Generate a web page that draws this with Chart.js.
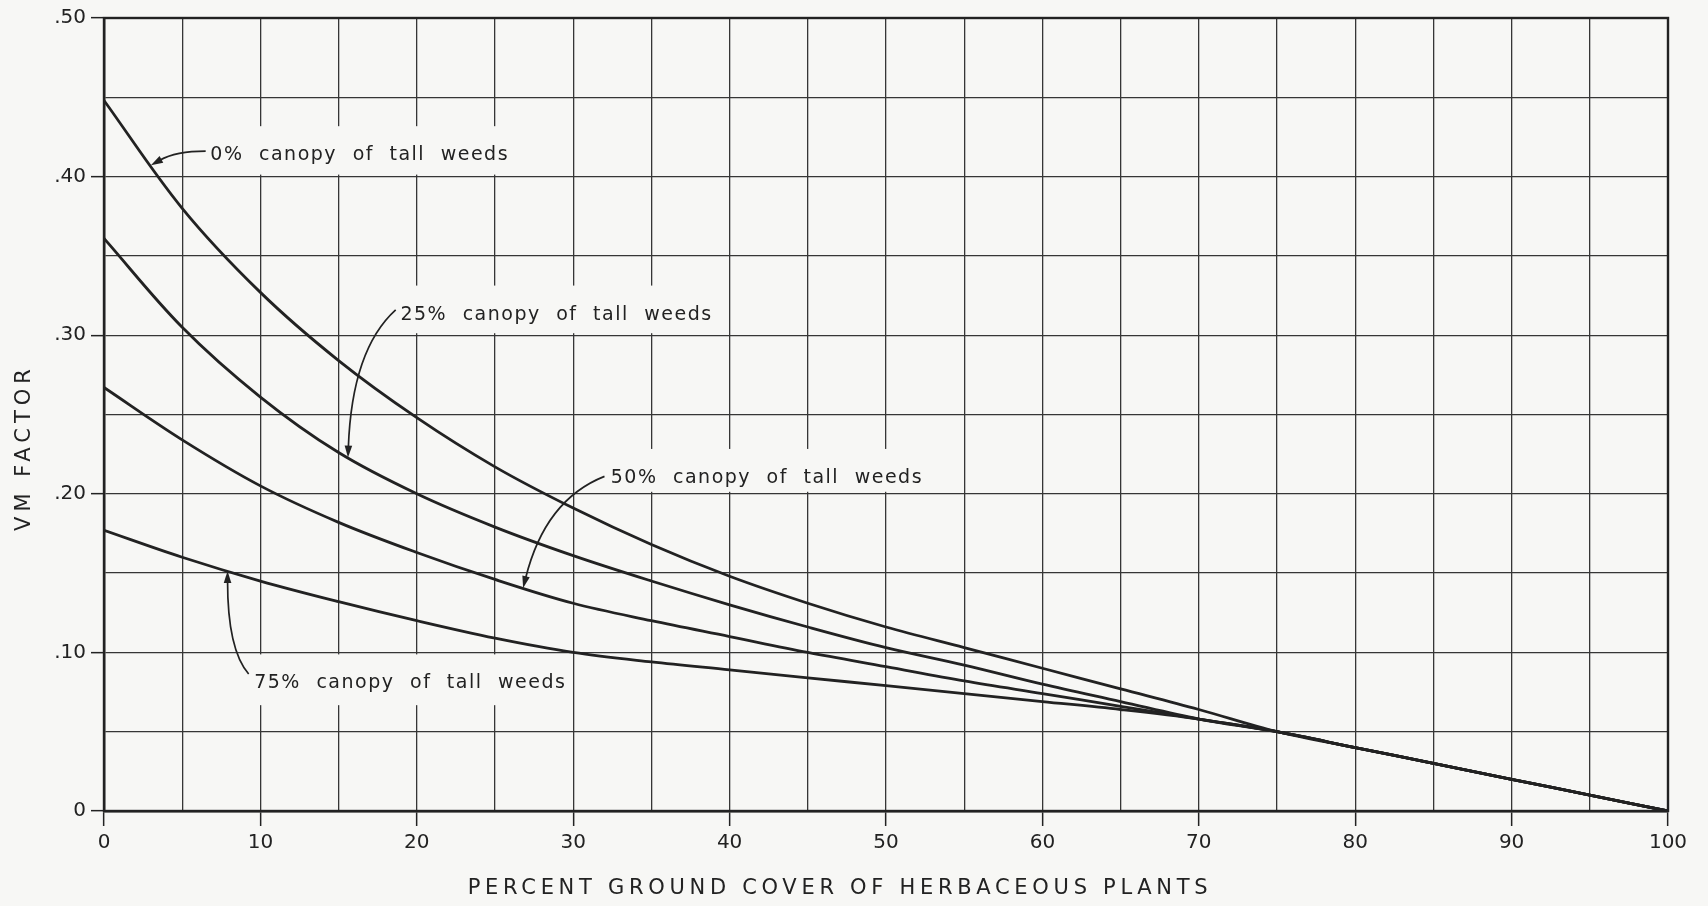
<!DOCTYPE html>
<html>
<head>
<meta charset="utf-8">
<title>VM factor vs. ground cover</title>
<script src="https://cdn.jsdelivr.net/npm/chart.js@4.4.1/dist/chart.umd.min.js"></script>
<style>
  html, body { margin: 0; padding: 0; background: #f7f7f5; }
  #wrap { width: 1708px; height: 906px; }
  canvas { display: block; }
</style>
</head>
<body>
<div id="wrap"><canvas id="chart" width="1708" height="906"></canvas></div>
<script>
// Percent ground cover of herbaceous plants (x positions of the read points)
const groundCover = [0, 5, 10, 15, 20, 25, 30, 35, 40, 45, 50, 55, 60, 65, 70, 75, 80, 85, 90, 95, 100];

// VM factor for each canopy level of tall weeds
const canopy0  = [0.448, 0.380, 0.327, 0.284, 0.248, 0.217, 0.191, 0.168, 0.148, 0.131, 0.116, 0.103, 0.090, 0.077, 0.064, 0.050, 0.040, 0.030, 0.020, 0.010, 0];
const canopy25 = [0.361, 0.305, 0.261, 0.226, 0.200, 0.179, 0.161, 0.145, 0.130, 0.116, 0.103, 0.092, 0.080, 0.069, 0.058, 0.050, 0.040, 0.030, 0.020, 0.010, 0];
const canopy50 = [0.267, 0.234, 0.205, 0.182, 0.163, 0.146, 0.131, 0.120, 0.110, 0.100, 0.091, 0.082, 0.074, 0.066, 0.058, 0.050, 0.040, 0.030, 0.020, 0.010, 0];
const canopy75 = [0.177, 0.160, 0.145, 0.132, 0.120, 0.109, 0.100, 0.094, 0.089, 0.084, 0.079, 0.074, 0.069, 0.064, 0.058, 0.050, 0.040, 0.030, 0.020, 0.010, 0];

// Axis tick labels
const xTickLabels = ['0', '10', '20', '30', '40', '50', '60', '70', '80', '90', '100'];
const yTickLabels = ['0', '.10', '.20', '.30', '.40', '.50'];

const xTitle = 'PERCENT GROUND COVER OF HERBACEOUS PLANTS';
const yTitle = 'VM FACTOR';

const INK = '#222222';
const GRID = '#363636';
const PAPER = '#f7f7f5';
const FONT = '"DejaVu Sans", "Liberation Sans", sans-serif';
const NOTE_FONT = '19px ' + FONT;

const toPoints = ys => groundCover.map((x, i) => ({ x, y: ys[i] }));

// value of a series at an arbitrary ground-cover percentage
function valueAt(series, x) {
  for (let i = 0; i < groundCover.length - 1; i++) {
    const x0 = groundCover[i], x1 = groundCover[i + 1];
    if (x >= x0 && x <= x1) {
      const t = (x - x0) / (x1 - x0);
      return series[i] + t * (series[i + 1] - series[i]);
    }
  }
  return series[series.length - 1];
}

// Curve labels with their leader arrows (data coordinates)
const curveNotes = [
  { text: '0% canopy of tall weeds',  series: canopy0,  at: [6.80, 0.4135], from: [6.50, 0.4160], ctrl: [4.6, 0.4160], tipX: 3.0 },
  { text: '25% canopy of tall weeds', series: canopy25, at: [18.95, 0.3130], from: [18.65, 0.3160], ctrl: [15.85, 0.2910], tipX: 15.6 },
  { text: '50% canopy of tall weeds', series: canopy50, at: [32.40, 0.2100], from: [32.00, 0.2110], ctrl: [28.2, 0.1962], tipX: 26.8 },
  { text: '75% canopy of tall weeds', series: canopy75, at: [9.60, 0.0806], from: [9.25, 0.0864], ctrl: [7.9, 0.1016], tipX: 7.9 }
];

const isMajor = v => Math.round(v * 100) % 10 === 0;

function setNoteFont(ctx) {
  ctx.font = NOTE_FONT;
  ctx.letterSpacing = '1.5px';
  ctx.wordSpacing = '8px';
}

const paperPlugin = {
  id: 'paper',
  beforeDraw(chart) {
    const { ctx, width, height } = chart;
    ctx.save();
    ctx.fillStyle = PAPER;
    ctx.fillRect(0, 0, width, height);
    ctx.restore();
  }
};

// Clears the grid behind each curve label
const labelMaskPlugin = {
  id: 'labelMask',
  beforeDatasetsDraw(chart) {
    const { ctx, scales: { x, y } } = chart;
    ctx.save();
    setNoteFont(ctx);
    curveNotes.forEach(n => {
      const px = x.getPixelForValue(n.at[0]);
      const cy = y.getPixelForValue(n.at[1]);
      const w = ctx.measureText(n.text).width;
      const above = y.getPixelForValue(Math.ceil(n.at[1] / 0.05) * 0.05);
      const below = y.getPixelForValue(Math.floor(n.at[1] / 0.05) * 0.05);
      const top = Math.max(cy - 29, above + 2);
      const bottom = Math.min(cy + 22, below - 2);
      ctx.fillStyle = PAPER;
      ctx.fillRect(px - 8, top, w + 10, bottom - top);
    });
    ctx.restore();
  }
};

// Labels, leader arrows, frame and axis titles
const notesPlugin = {
  id: 'notes',
  afterDatasetsDraw(chart) {
    const { ctx, chartArea: a, scales: { x, y } } = chart;
    ctx.save();

    // frame
    ctx.strokeStyle = INK;
    ctx.lineWidth = 2.4;
    ctx.strokeRect(a.left, a.top, a.right - a.left, a.bottom - a.top);

    // curve labels
    ctx.fillStyle = INK;
    setNoteFont(ctx);
    ctx.textBaseline = 'middle';
    ctx.textAlign = 'left';
    curveNotes.forEach(n => {
      ctx.fillText(n.text, x.getPixelForValue(n.at[0]), y.getPixelForValue(n.at[1]));
    });

    // leader arrows
    ctx.strokeStyle = INK;
    ctx.lineWidth = 1.7;
    curveNotes.forEach(n => {
      const p0 = [x.getPixelForValue(n.from[0]), y.getPixelForValue(n.from[1])];
      const p1 = [x.getPixelForValue(n.ctrl[0]), y.getPixelForValue(n.ctrl[1])];
      const tip = [x.getPixelForValue(n.tipX), y.getPixelForValue(valueAt(n.series, n.tipX))];
      let dx = tip[0] - p1[0], dy = tip[1] - p1[1];
      const len = Math.hypot(dx, dy);
      dx /= len; dy /= len;
      const headLen = 12, headHalf = 3.8;
      const base = [tip[0] - dx * headLen, tip[1] - dy * headLen];
      ctx.beginPath();
      ctx.moveTo(p0[0], p0[1]);
      ctx.quadraticCurveTo(p1[0], p1[1], base[0] + dx * 2, base[1] + dy * 2);
      ctx.stroke();
      ctx.beginPath();
      ctx.moveTo(tip[0], tip[1]);
      ctx.lineTo(base[0] - dy * headHalf, base[1] + dx * headHalf);
      ctx.lineTo(base[0] + dy * headHalf, base[1] - dx * headHalf);
      ctx.closePath();
      ctx.fill();
    });

    // axis titles
    ctx.font = '21px ' + FONT;
    ctx.textAlign = 'center';
    ctx.textBaseline = 'middle';
    ctx.wordSpacing = '0px';
    ctx.letterSpacing = '4.7px';
    ctx.fillText(xTitle, (a.left + a.right) / 2 - 46, a.bottom + 78);

    ctx.letterSpacing = '5px';
    ctx.translate(a.left - 79, (a.top + a.bottom) / 2 + 33);
    ctx.rotate(-Math.PI / 2);
    ctx.fillText(yTitle, 0, 0);

    ctx.restore();
  }
};

const lineStyle = {
  borderColor: INK,
  borderWidth: 2.8,
  pointRadius: 0,
  fill: false,
  tension: 0.35
};

new Chart(document.getElementById('chart'), {
  type: 'line',
  data: {
    datasets: [
      { label: '0% canopy of tall weeds',  data: toPoints(canopy0),  ...lineStyle },
      { label: '25% canopy of tall weeds', data: toPoints(canopy25), ...lineStyle },
      { label: '50% canopy of tall weeds', data: toPoints(canopy50), ...lineStyle },
      { label: '75% canopy of tall weeds', data: toPoints(canopy75), ...lineStyle }
    ]
  },
  options: {
    responsive: false,
    animation: false,
    devicePixelRatio: 1,
    layout: { padding: { top: 18, right: 40, left: 0, bottom: 0 } },
    plugins: {
      legend: { display: false },
      tooltip: { enabled: false },
      title: { display: false }
    },
    scales: {
      x: {
        type: 'linear',
        min: 0,
        max: 100,
        afterFit: s => { s.height = 95; },
        border: { display: true, color: INK, width: 2.4 },
        grid: {
          color: GRID,
          lineWidth: 1.3,
          drawTicks: true,
          tickLength: 15,
          tickWidth: 1.5,
          tickColor: c => (c.tick && c.tick.value % 10 === 0) ? INK : 'rgba(0,0,0,0)'
        },
        ticks: {
          stepSize: 5,
          autoSkip: false,
          maxRotation: 0,
          padding: 5,
          color: INK,
          font: { family: FONT, size: 20 },
          callback: v => (v % 10 === 0) ? xTickLabels[v / 10] : ''
        }
      },
      y: {
        type: 'linear',
        min: 0,
        max: 0.5,
        afterFit: s => { s.width = 104; },
        border: { display: true, color: INK, width: 2.4 },
        grid: {
          color: GRID,
          lineWidth: 1.3,
          drawTicks: true,
          tickLength: 13,
          tickWidth: 1.5,
          tickColor: c => (c.tick && isMajor(c.tick.value)) ? INK : 'rgba(0,0,0,0)'
        },
        ticks: {
          stepSize: 0.05,
          autoSkip: false,
          padding: 5,
          color: INK,
          font: { family: FONT, size: 20 },
          callback: v => isMajor(v) ? yTickLabels[Math.round(v * 10)] : ''
        }
      }
    }
  },
  plugins: [paperPlugin, labelMaskPlugin, notesPlugin]
});
</script>
</body>
</html>
